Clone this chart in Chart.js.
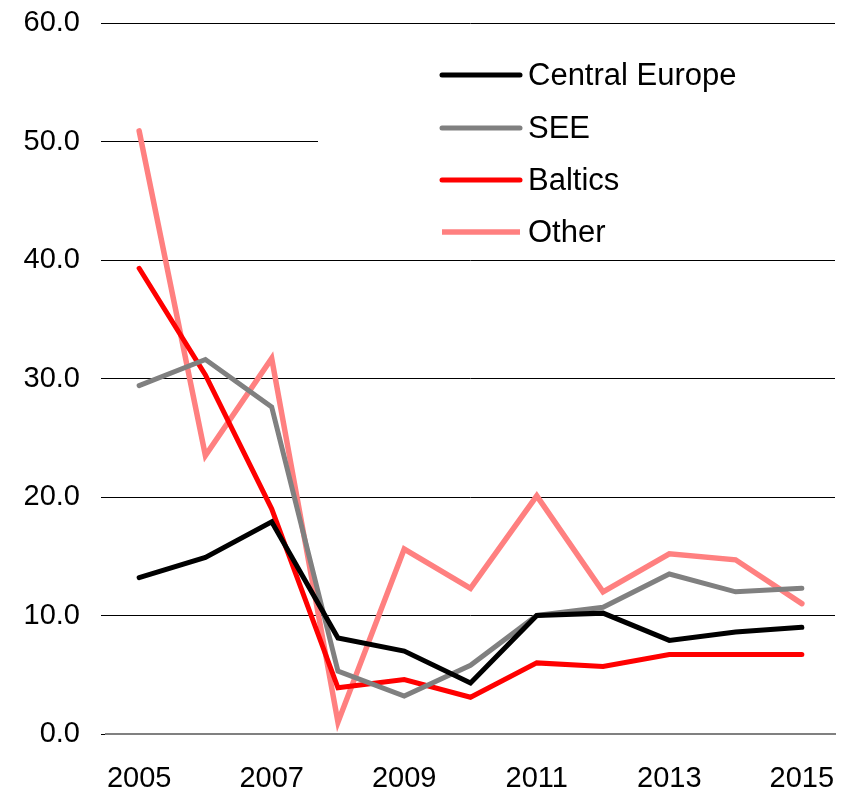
<!DOCTYPE html>
<html>
<head>
<meta charset="utf-8">
<script src="https://cdn.jsdelivr.net/npm/chart.js@4/dist/chart.umd.min.js"></script>
<style>
  html, body { margin: 0; padding: 0; background: #ffffff; }
  #wrap { width: 857px; height: 793px; position: relative; }
</style>
</head>
<body>
<div id="wrap"><canvas id="c" width="857" height="793"></canvas></div>
<script>
const years = ['2005','2006','2007','2008','2009','2010','2011','2012','2013','2014','2015'];
const centralEurope = [13.2, 14.9, 17.9, 8.1, 7.0, 4.3, 10.0, 10.2, 7.9, 8.6, 9.0];
const see           = [29.4, 31.6, 27.6, 5.3, 3.2, 5.8, 10.0, 10.7, 13.5, 12.0, 12.3];
const baltics       = [39.3, 30.3, 19.0, 3.9, 4.6, 3.1, 6.0, 5.7, 6.7, 6.7, 6.7];
const other         = [50.9, 23.5, 31.7, 1.0, 15.6, 12.3, 20.1, 12.0, 15.2, 14.7, 11.0];
const yTicks = [0, 10, 20, 30, 40, 50, 60];

const FONT = '"Liberation Sans", Arial, sans-serif';

const legendPlugin = {
  id: 'boxLegend',
  beforeDatasetsDraw(chart) {
    const ctx = chart.ctx;
    ctx.save();
    ctx.fillStyle = '#ffffff';
    ctx.fillRect(318, 45, 530, 210);
    ctx.restore();
  },
  afterDraw(chart) {
    const ctx = chart.ctx;
    ctx.save();
    const x0 = 442, x1 = 520, tx = 528;
    const ys = [75, 128, 180, 232];
    chart.data.datasets.forEach((ds, i) => {
      ctx.strokeStyle = ds.borderColor;
      ctx.lineWidth = ds.borderWidth;
      ctx.lineCap = i === 3 ? 'butt' : 'round';
      ctx.beginPath();
      ctx.moveTo(x0, ys[i]);
      ctx.lineTo(x1, ys[i]);
      ctx.stroke();
      ctx.fillStyle = '#000000';
      ctx.font = '31px ' + FONT;
      ctx.textBaseline = 'middle';
      ctx.textAlign = 'left';
      ctx.fillText(ds.label, tx, ys[i] + 1);
    });
    ctx.restore();
  }
};

new Chart(document.getElementById('c'), {
  type: 'line',
  data: {
    labels: years,
    datasets: [
      { label: 'Central Europe', data: centralEurope, borderColor: '#000000', borderWidth: 5 },
      { label: 'SEE', data: see, borderColor: '#808080', borderWidth: 5 },
      { label: 'Baltics', data: baltics, borderColor: '#ff0000', borderWidth: 5 },
      { label: 'Other', data: other, borderColor: '#ff8080', borderWidth: 5.5 }
    ].map(d => Object.assign(d, { fill: false, pointRadius: 0, tension: 0, borderJoinStyle: 'miter', borderCapStyle: 'round' }))
  },
  options: {
    responsive: false,
    animation: false,
    layout: { padding: { top: 23, right: 22, bottom: 0, left: 0 } },
    plugins: { legend: { display: false }, tooltip: { enabled: false } },
    scales: {
      x: {
        offset: true,
        grid: { display: false, drawTicks: false },
        border: { display: true, color: '#808080', width: 2 },
        ticks: {
          autoSkip: false, maxRotation: 0, padding: 28,
          color: '#000000', font: { family: FONT, size: 29 },
          callback: function(v, i) { return i % 2 === 0 ? years[i] : ''; }
        },
        afterFit(scale) { scale.height = 59; scale.paddingLeft = 0; scale.paddingRight = 0; }
      },
      y: {
        min: 0, max: 60,
        afterBuildTicks(scale) { scale.ticks = yTicks.map(v => ({ value: v })); },
        grid: {
          color: (c) => c.tick && c.tick.value === 0 ? 'rgba(0,0,0,0)' : '#000000',
          lineWidth: 1, tickLength: 5, drawTicks: true, tickColor: '#000000'
        },
        border: { display: false },
        ticks: {
          padding: 21, color: '#000000', font: { family: FONT, size: 29 },
          callback: (v) => Number(v).toFixed(1)
        },
        afterFit(scale) { scale.width = 106; scale.paddingTop = 0; scale.paddingBottom = 0; }
      }
    }
  },
  plugins: [legendPlugin]
});
</script>
</body>
</html>
